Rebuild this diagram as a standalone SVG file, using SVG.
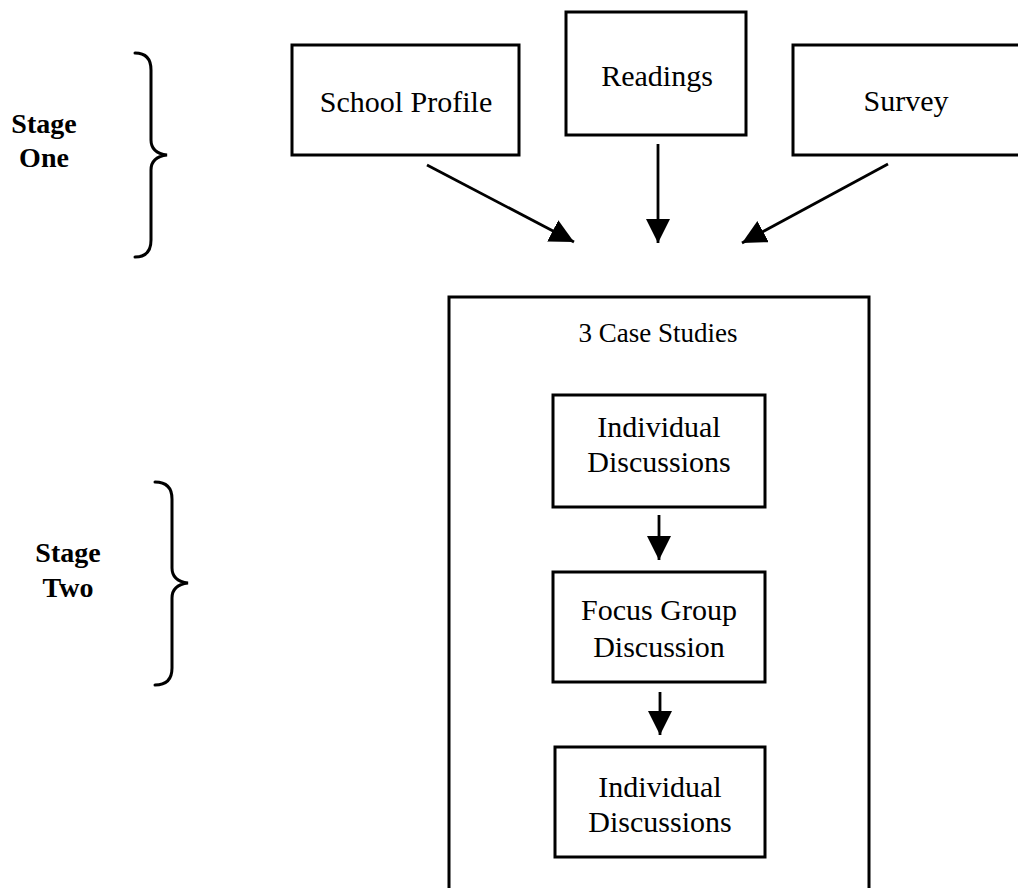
<svg xmlns="http://www.w3.org/2000/svg" width="1018" height="888" viewBox="0 0 1018 888">
<style>
.box{fill:#fff;stroke:#000;stroke-width:3}
.t{font-family:"Liberation Serif","Times New Roman",serif;font-size:30px;fill:#000;text-anchor:middle}
.s{font-family:"Liberation Serif","Times New Roman",serif;font-size:28px;font-weight:bold;fill:#000;text-anchor:middle}
.c{stroke:#000;stroke-width:2.8;fill:none}
.br{stroke:#000;stroke-width:3;fill:none;stroke-linecap:round}
</style>
<defs>
<marker id="ah" markerUnits="userSpaceOnUse" markerWidth="26" markerHeight="26" refX="24" refY="12" orient="auto">
<path d="M0,0 L24,12 L0,24 z" fill="#000"/>
</marker>
</defs>
<rect width="1018" height="888" fill="#fff"/>
<g id="stage-one">
<path class="br" d="M135,53 Q151,53 151,70 L151,140 Q151,153 167,155 Q151,157 151,170 L151,240 Q151,257 135,257"/>
<text class="s" x="44" y="133">Stage</text>
<text class="s" x="44" y="167">One</text>
</g>
<g id="stage-two">
<path class="br" d="M155,482 Q172,482 172,499 L172,568 Q172,581 188,583 Q172,585 172,598 L172,668 Q172,685 155,685"/>
<text class="s" x="68" y="562">Stage</text>
<text class="s" x="68" y="597">Two</text>
</g>
<g id="school-profile">
<rect class="box" x="292" y="45" width="227" height="110"/>
<text class="t" x="406" y="112">School Profile</text>
</g>
<g id="readings">
<rect class="box" x="566" y="12" width="180" height="123"/>
<text class="t" x="657" y="86">Readings</text>
</g>
<g id="survey">
<rect class="box" x="793" y="45" width="230" height="110"/>
<text class="t" x="906" y="111">Survey</text>
</g>
<g id="case-studies">
<rect class="box" x="449" y="297" width="420" height="600"/>
<text class="t" x="658" y="342" style="font-size:27px">3 Case Studies</text>
</g>
<g id="individual-1">
<rect class="box" x="553" y="395" width="212" height="112"/>
<text class="t" x="659" y="437">Individual</text>
<text class="t" x="659" y="472">Discussions</text>
</g>
<g id="focus-group">
<rect class="box" x="553" y="572" width="212" height="110"/>
<text class="t" x="659" y="620">Focus Group</text>
<text class="t" x="659" y="657">Discussion</text>
</g>
<g id="individual-2">
<rect class="box" x="555" y="747" width="210" height="110"/>
<text class="t" x="660" y="797">Individual</text>
<text class="t" x="660" y="832">Discussions</text>
</g>
<g id="connectors">
<line class="c" x1="427" y1="165" x2="574" y2="242" marker-end="url(#ah)"/>
<line class="c" x1="658" y1="144" x2="658" y2="243" marker-end="url(#ah)"/>
<line class="c" x1="888" y1="164" x2="742" y2="243" marker-end="url(#ah)"/>
<line class="c" x1="659" y1="515" x2="659" y2="560" marker-end="url(#ah)"/>
<line class="c" x1="660" y1="692" x2="660" y2="735" marker-end="url(#ah)"/>
</g>
</svg>
